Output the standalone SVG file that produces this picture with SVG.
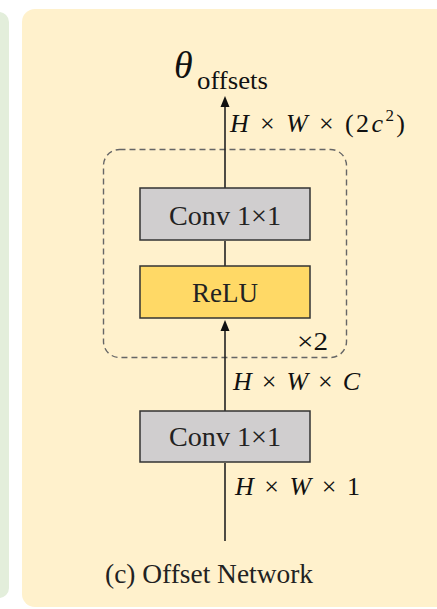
<svg xmlns="http://www.w3.org/2000/svg" width="437" height="609" viewBox="0 0 437 609">
<defs>
<marker id="arr" markerWidth="9" markerHeight="11" refX="4.5" refY="1" orient="auto" markerUnits="userSpaceOnUse" viewBox="0 0 9 11">
<path d="M4.5,0 L9,11 L0,11 Z" fill="#111" transform="rotate(90 4.5 5.5)"/>
</marker>
</defs>
<style>
.box{stroke:#333;stroke-width:1.5}
.conv{fill:#d0cecf}
.relu{fill:#ffd966}
.lbl{font-family:"Liberation Serif",serif;fill:#222;text-anchor:middle}
.math{font-family:"Liberation Serif",serif;fill:#111}
.it{font-style:italic}
.wire{stroke:#222;stroke-width:1.6;fill:none}
</style>
<rect x="0" y="0" width="437" height="609" fill="#ffffff"/>
<rect x="-20" y="12" width="29" height="586" rx="10" fill="#e3eedb"/>
<rect x="22" y="9" width="440" height="598" rx="13" fill="#fff1cc"/>
<g id="repeat-group">
<rect x="103.5" y="149.5" width="243" height="208" rx="16" fill="none" stroke="#666" stroke-width="1.4" stroke-dasharray="6,4"/>
<text x="297" y="350" class="math" font-size="26" textLength="31" lengthAdjust="spacingAndGlyphs">×2</text>
</g>
<g id="connectors">
<line class="wire" x1="225" y1="541" x2="225" y2="463"/>
<line class="wire" x1="225" y1="411" x2="225" y2="331"/>
<path d="M225,320 L229.5,331 L220.5,331 Z" fill="#111"/>
<line class="wire" x1="225" y1="241" x2="225" y2="266"/>
<line class="wire" x1="225" y1="188" x2="225" y2="107"/>
<path d="M225,96 L229.5,107 L220.5,107 Z" fill="#111"/>
<text x="230" y="132" class="math" font-size="26" textLength="175" lengthAdjust="spacing"><tspan class="it">H</tspan> × <tspan class="it">W</tspan> × (2<tspan class="it">c</tspan><tspan font-size="17" dy="-11">2</tspan><tspan dy="11">)</tspan></text>
<text x="233" y="390" class="math" font-size="26" textLength="127" lengthAdjust="spacing"><tspan class="it">H</tspan> × <tspan class="it">W</tspan> × <tspan class="it">C</tspan></text>
<text x="235" y="495" class="math" font-size="26" textLength="125" lengthAdjust="spacing"><tspan class="it">H</tspan> × <tspan class="it">W</tspan> × 1</text>
</g>
<g id="output">
<text x="174" y="78" class="math it" font-size="38">θ</text>
<text x="197" y="89" class="math" font-size="26" textLength="71" lengthAdjust="spacingAndGlyphs">offsets</text>
</g>
<g id="conv-top">
<rect class="box conv" x="140" y="188" width="170" height="52"/>
<text class="lbl" x="225" y="225" font-size="27" textLength="112" lengthAdjust="spacingAndGlyphs">Conv 1×1</text>
</g>
<g id="relu">
<rect class="box relu" x="140" y="266" width="170" height="52"/>
<text class="lbl" x="225" y="302" font-size="27">ReLU</text>
</g>
<g id="conv-bottom">
<rect class="box conv" x="140" y="411" width="170" height="51"/>
<text class="lbl" x="225" y="446" font-size="27" textLength="112" lengthAdjust="spacingAndGlyphs">Conv 1×1</text>
</g>
<text x="209" y="583" class="lbl" font-size="28" textLength="208" lengthAdjust="spacingAndGlyphs">(c) Offset Network</text>
</svg>
